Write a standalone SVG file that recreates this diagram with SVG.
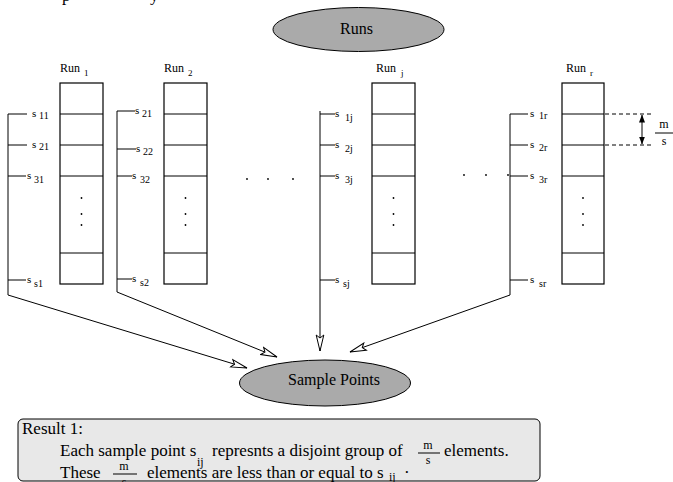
<svg xmlns="http://www.w3.org/2000/svg" width="673" height="482" viewBox="0 0 673 482">
<style>
.ln{stroke:#000;stroke-width:1;fill:none}
.box{stroke:#000;stroke-width:1.2;fill:#fff}
.ell{stroke:#000;stroke-width:1;fill:#aaaaaa}
.t{font-family:"Liberation Serif","Times New Roman",serif;fill:#000}
.big{font-size:16px}
.res{font-size:17px}
.rl{font-size:12px}
.rs{font-size:9px}
.s{font-size:11px}
.ss{font-size:10px}
.fr{font-size:12px}
.dash{stroke:#000;stroke-width:1;stroke-dasharray:4 3;fill:none}
.dot{fill:#000}
</style>
<defs>
<marker id="open" viewBox="0 0 18 10" refX="17" refY="5" markerWidth="18" markerHeight="10" markerUnits="userSpaceOnUse" orient="auto">
<path d="M1,1.2 L17,5 L1,8.8 L4,5 Z" fill="#fff" stroke="#000" stroke-width="1"/>
</marker>
<marker id="solid" viewBox="0 0 8 6" refX="7.5" refY="3" markerWidth="8" markerHeight="6" markerUnits="userSpaceOnUse" orient="auto-start-reverse">
<path d="M0,0 L8,3 L0,6 Z" fill="#000"/>
</marker>
</defs>
<rect width="673" height="482" fill="#fff"/>

<g id="caption-fragment">
<text class="t res" x="62" y="1">p</text>
<text class="t res" x="150" y="1">y</text>
</g>

<g id="runs">
<ellipse class="ell" cx="358.5" cy="29.5" rx="85.5" ry="22"/>
<text class="t big" x="340" y="34">Runs</text>
</g>

<g id="run1">
<text class="t rl" x="60" y="72">Run</text><text class="t rs" x="84" y="76">1</text>
<rect class="box" x="60" y="83" width="43" height="201"/>
<path class="ln" d="M60,114H103M60,145H103M60,176H103M60,253H103"/>
<circle class="dot" cx="81.5" cy="198" r="0.9"/><circle class="dot" cx="81.5" cy="214" r="0.9"/><circle class="dot" cx="81.5" cy="225" r="0.9"/>
</g>
<g id="run2">
<text class="t rl" x="164" y="72">Run</text><text class="t rs" x="188" y="76">2</text>
<rect class="box" x="164" y="83" width="43" height="201"/>
<path class="ln" d="M164,114H207M164,145H207M164,176H207M164,253H207"/>
<circle class="dot" cx="185.5" cy="198" r="0.9"/><circle class="dot" cx="185.5" cy="214" r="0.9"/><circle class="dot" cx="185.5" cy="225" r="0.9"/>
</g>
<g id="runj">
<text class="t rl" x="376" y="72">Run</text><text class="t rs" x="401" y="76">j</text>
<rect class="box" x="372" y="83" width="43" height="201"/>
<path class="ln" d="M372,114H415M372,145H415M372,176H415M372,253H415"/>
<circle class="dot" cx="393.5" cy="198" r="0.9"/><circle class="dot" cx="393.5" cy="214" r="0.9"/><circle class="dot" cx="393.5" cy="225" r="0.9"/>
</g>
<g id="runr">
<text class="t rl" x="566" y="72">Run</text><text class="t rs" x="590" y="76">r</text>
<rect class="box" x="562" y="83" width="42" height="201"/>
<path class="ln" d="M562,114H604M562,145H604M562,176H604M562,253H604"/>
<circle class="dot" cx="583" cy="198" r="0.9"/><circle class="dot" cx="583" cy="214" r="0.9"/><circle class="dot" cx="583" cy="225" r="0.9"/>
</g>

<g id="gap-dots">
<circle class="dot" cx="247" cy="179" r="0.9"/><circle class="dot" cx="268" cy="179" r="0.9"/><circle class="dot" cx="293" cy="179" r="0.9"/>
<circle class="dot" cx="464" cy="175" r="0.9"/><circle class="dot" cx="486" cy="175" r="0.9"/><circle class="dot" cx="508" cy="175" r="0.9"/>
</g>

<g id="labels1">
<text class="t s" x="32" y="117">s</text><text class="t ss" x="39" y="119">11</text>
<text class="t s" x="32" y="148">s</text><text class="t ss" x="39" y="150">21</text>
<text class="t s" x="27" y="179">s</text><text class="t ss" x="34" y="183">31</text>
<text class="t s" x="27" y="283">s</text><text class="t ss" x="34" y="287">s1</text>
</g>
<g id="labels2">
<text class="t s" x="135" y="114">s</text><text class="t ss" x="142" y="117">21</text>
<text class="t s" x="136" y="152">s</text><text class="t ss" x="143" y="155">22</text>
<text class="t s" x="132" y="179">s</text><text class="t ss" x="140" y="183">32</text>
<text class="t s" x="132" y="282">s</text><text class="t ss" x="140" y="286">s2</text>
</g>
<g id="labelsj">
<text class="t s" x="335" y="117">s</text><text class="t ss" x="345" y="121">1j</text>
<text class="t s" x="335" y="148">s</text><text class="t ss" x="345" y="152">2j</text>
<text class="t s" x="335" y="179">s</text><text class="t ss" x="345" y="183">3j</text>
<text class="t s" x="335" y="283">s</text><text class="t ss" x="343" y="287">sj</text>
</g>
<g id="labelsr">
<text class="t s" x="530" y="117">s</text><text class="t ss" x="539" y="119">1r</text>
<text class="t s" x="530" y="148">s</text><text class="t ss" x="539" y="151">2r</text>
<text class="t s" x="530" y="179">s</text><text class="t ss" x="539" y="183">3r</text>
<text class="t s" x="530" y="283">s</text><text class="t ss" x="539" y="287">sr</text>
</g>

<g id="measure">
<path class="dash" d="M605,114H652M605,145H652"/>
<line class="ln" x1="642" y1="115" x2="642" y2="144" marker-start="url(#solid)" marker-end="url(#solid)"/>
<text class="t fr" x="664" y="128" text-anchor="middle">m</text>
<line class="ln" x1="655" y1="133" x2="673" y2="133"/>
<text class="t fr" x="664" y="145" text-anchor="middle">s</text>
</g>

<g id="sample-points">
<ellipse class="ell" cx="325" cy="383" rx="85.5" ry="23"/>
<text class="t big" x="288" y="385">Sample Points</text>
</g>

<g id="connectors">
<path class="ln" d="M8,114V295L247,368" marker-end="url(#open)"/>
<path class="ln" d="M8,114H27M8,145H27M8,176H26M8,280H26"/>
<path class="ln" d="M117,111V292L277,357" marker-end="url(#open)"/>
<path class="ln" d="M117,111H135M117,149H136M117,176H132M117,279H132"/>
<path class="ln" d="M320,111V351" marker-end="url(#open)"/>
<path class="ln" d="M320,114H335M320,145H335M320,176H335M320,280H335"/>
<path class="ln" d="M510,114V295L350,352" marker-end="url(#open)"/>
<path class="ln" d="M510,114H528M510,145H528M510,176H528M510,280H528"/>
</g>

<g id="result">
<rect x="18" y="419" width="522" height="62" rx="5" ry="5" fill="#e8e8e8" stroke="#000" stroke-width="1"/>
<text class="t res" x="22" y="434">Result 1:</text>
<text class="t res" x="60" y="456">Each sample point s</text>
<text class="t fr" x="197" y="466">ij</text>
<text class="t res" x="212" y="456">represnts a disjoint group of</text>
<text class="t fr" x="428" y="449" text-anchor="middle">m</text>
<line class="ln" x1="418" y1="453" x2="440" y2="453"/>
<text class="t fr" x="428" y="464" text-anchor="middle">s</text>
<text class="t res" x="444" y="456">elements.</text>
<text class="t res" x="60" y="478">These</text>
<text class="t fr" x="124" y="470" text-anchor="middle">m</text>
<line class="ln" x1="113" y1="474" x2="137" y2="474"/>
<text class="t fr" x="124" y="486" text-anchor="middle">s</text>
<text class="t res" x="147" y="478">elements are less than or equal to s</text>
<text class="t fr" x="389" y="481">ij</text>
<text class="t res" x="404" y="478">·</text>
</g>
</svg>
